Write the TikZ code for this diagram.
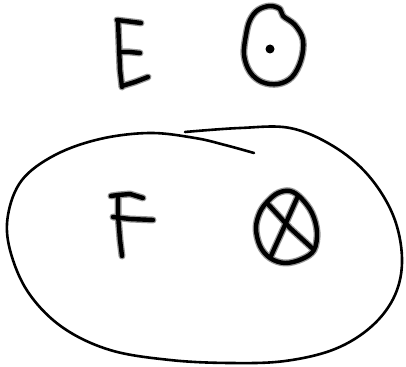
\documentclass[tikz,border=0pt]{standalone}
\begin{document}
\begin{tikzpicture}[x=1pt,y=-1pt,
  penhalo/.style={draw=black!40,line width=7pt,line cap=round,line join=round},
  penink/.style={draw=black,line width=4.4pt,line cap=round,line join=round},
  thinpen/.style={draw=black,line width=2.6pt,line cap=round,line join=round}]
\useasboundingbox[fill=white] (0,0) rectangle (406,366);
% strokes reused for halo and ink
\def\strokeE#1{%
  \draw[#1] (117,20) -- (125,21) -- (141,23);
  \draw[#1] (118,21) -- (119,45) -- (120,70) -- (122,87);
  \draw[#1] (119,52) -- (130,52) -- (140,53);
  \draw[#1] (122,86) -- (135,82) -- (148,77);
}
\def\strokeDot#1{%
  \draw[#1] plot[smooth cycle,tension=0.6] coordinates {(258,10) (270,6) (280,9) (283,16) (295,25) (303,40) (301,60) (292,77) (278,84) (262,82) (250,72) (244,55) (246,35) (250,20)};
}
\def\strokeF#1{%
  \draw[#1] (111,196) -- (118,195) -- (130,194) -- (143,198);
  \draw[#1] (118,196) -- (118,215) -- (120,240) -- (122,256);
  \draw[#1] (113,217) -- (130,219) -- (153,220);
}
\def\strokeX#1{%
  \draw[#1] plot[smooth cycle,tension=0.6] coordinates {(268,201) (278,193) (290,191) (301,198) (312,213) (317,232) (314,250) (302,259) (285,263) (270,258) (260,246) (256,228) (260,212)};
  \draw[#1] (267,203) -- (290,228) -- (313,249);
  \draw[#1] (298,196) -- (285,225) -- (271,256);
}
\strokeE{penhalo}\strokeE{penink}
\strokeDot{penhalo}\strokeDot{penink}
\fill[black] (270,49) circle (4.5pt);
\strokeF{penhalo}\strokeF{penink}
\strokeX{penhalo}\strokeX{penink}
% big hand-drawn ellipse
\draw[thinpen] plot[smooth,tension=0.6] coordinates {(185,132) (240,128) (290,128) (333,146) (368,175) (393,215) (402,258) (395,295) (372,326) (335,349) (285,361) (230,363) (170,360) (110,350) (62,327) (28,292) (10,250) (8,215) (22,180) (55,155) (100,139) (150,133) (195,138) (225,145) (254,153)};
\end{tikzpicture}
\end{document}
